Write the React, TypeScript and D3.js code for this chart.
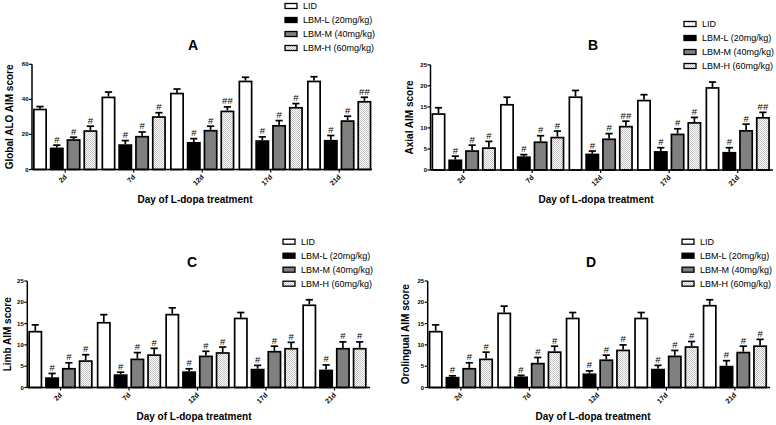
import React from "react";
import * as d3 from "d3";

const days = ["2d", "7d", "12d", "17d", "21d"];
const seriesNames = ["LID", "LBM-L (20mg/kg)", "LBM-M (40mg/kg)", "LBM-H (60mg/kg)"];

// Panel A: Global ALO AIM score
const aLID = [34.7, 41.6, 43.8, 50.7, 50.7];
const aLIDErr = [1.2, 2.6, 2.1, 1.9, 2.2];
const aLow = [12.5, 14.4, 15.7, 16.7, 16.9];
const aLowErr = [1.4, 2.1, 1.9, 1.9, 2.5];
const aMid = [17.3, 19.2, 22.6, 25.4, 28.1];
const aMidErr = [1.1, 2.2, 2.1, 2.5, 2.3];
const aHigh = [22.4, 30.4, 33.6, 35.7, 39.1];
const aHighErr = [2.3, 2.0, 2.1, 1.9, 2.1];
const aHighSig = ["#", "#", "##", "#", "##"];

// Panel B: Axial AIM score
const bLID = [13.5, 15.7, 17.5, 16.7, 19.7];
const bLIDErr = [1.3, 1.6, 1.4, 1.2, 1.2];
const bLow = [2.5, 3.25, 3.9, 4.5, 4.3];
const bLowErr = [0.8, 0.4, 0.6, 0.8, 1.0];
const bMid = [4.7, 6.8, 7.5, 8.65, 9.5];
const bMidErr = [1.2, 1.35, 1.15, 1.15, 1.4];
const bHigh = [5.4, 7.9, 10.5, 11.4, 12.6];
const bHighErr = [1.4, 1.35, 1.1, 1.1, 1.1];
const bHighSig = ["#", "#", "##", "#", "##"];

// Panel C: Limb AIM score
const cLID = [13.3, 15.4, 17.3, 16.4, 19.5];
const cLIDErr = [1.4, 1.7, 1.4, 1.2, 1.1];
const cLow = [2.4, 3.1, 3.8, 4.4, 4.2];
const cLowErr = [0.9, 0.5, 0.6, 0.8, 1.1];
const cMid = [4.6, 6.8, 7.5, 8.6, 9.3];
const cMidErr = [1.2, 1.4, 1.0, 1.1, 1.4];
const cHigh = [6.4, 7.8, 8.3, 9.3, 9.3];
const cHighErr = [1.3, 1.4, 1.2, 1.3, 1.4];
const cHighSig = ["#", "#", "#", "#", "#"];

// Panel D: Orolingual AIM score
const dLID = [13.3, 17.6, 16.4, 16.4, 19.4];
const dLIDErr = [1.4, 1.5, 1.2, 1.2, 1.2];
const dLow = [2.5, 2.6, 3.3, 4.4, 5.1];
const dLowErr = [0.25, 0.25, 0.6, 0.8, 1.2];
const dMid = [4.6, 5.8, 6.6, 7.5, 8.4];
const dMidErr = [1.2, 1.25, 1.0, 1.2, 1.3];
const dHigh = [6.8, 8.5, 8.9, 9.7, 9.9];
const dHighErr = [1.5, 1.2, 1.1, 1.1, 1.4];
const dHighSig = ["#", "#", "#", "#", "#"];

const allSig = ["#", "#", "#", "#", "#"];

const yTicks60 = [0, 20, 40, 60];
const yTicks25 = [0, 5, 10, 15, 20, 25];

type PanelData = {
  title: string;
  yLabel: string;
  yMax: number;
  yTicks: number[];
  values: number[][];
  errors: number[][];
  sig: (string[] | null)[];
};

const panelsData: PanelData[] = [
  {
    title: "A",
    yLabel: "Global ALO AIM score",
    yMax: 60,
    yTicks: yTicks60,
    values: [aLID, aLow, aMid, aHigh],
    errors: [aLIDErr, aLowErr, aMidErr, aHighErr],
    sig: [null, allSig, allSig, aHighSig],
  },
  {
    title: "B",
    yLabel: "Axial AIM score",
    yMax: 25,
    yTicks: yTicks25,
    values: [bLID, bLow, bMid, bHigh],
    errors: [bLIDErr, bLowErr, bMidErr, bHighErr],
    sig: [null, allSig, allSig, bHighSig],
  },
  {
    title: "C",
    yLabel: "Limb AIM score",
    yMax: 25,
    yTicks: yTicks25,
    values: [cLID, cLow, cMid, cHigh],
    errors: [cLIDErr, cLowErr, cMidErr, cHighErr],
    sig: [null, allSig, allSig, cHighSig],
  },
  {
    title: "D",
    yLabel: "Orolingual AIM score",
    yMax: 25,
    yTicks: yTicks25,
    values: [dLID, dLow, dMid, dHigh],
    errors: [dLIDErr, dLowErr, dMidErr, dHighErr],
    sig: [null, allSig, allSig, dHighSig],
  },
];

// Layout (positions only)
const layouts = [
  { ax: 32, xEnd: 372, top: 64.3, base: 169.5, titleX: 193, titleY: 49.5, legX: 285, legY: 6, yLabX: 12.6, xLabX: 195, xLabY: 202.6 },
  { ax: 430.5, xEnd: 773, top: 64.8, base: 170, titleX: 593, titleY: 49.5, legX: 684, legY: 24, yLabX: 412.6, xLabX: 596, xLabY: 202.6 },
  { ax: 27.3, xEnd: 370, top: 281, base: 387.5, titleX: 192, titleY: 266.5, legX: 283, legY: 241.7, yLabX: 10.6, xLabX: 194, xLabY: 419.6 },
  { ax: 427.7, xEnd: 770, top: 281, base: 387.5, titleX: 591, titleY: 266.5, legX: 682, legY: 241.7, yLabX: 408.6, xLabX: 593, xLabY: 419.6 },
];

const FONT = "'Liberation Sans', Arial, Helvetica, sans-serif";
const fills = ["#ffffff", "#000000", "#808080", "url(#dots)"];
const SW = 1.7;

function Panel({ data, lay }: { data: PanelData; lay: (typeof layouts)[number] }) {
  const y = d3.scaleLinear().domain([0, data.yMax]).range([lay.base, lay.top]);
  const groupStep = 68.5;
  const x0 = d3
    .scaleBand<string>()
    .domain(days)
    .range([lay.ax + 1, lay.ax + 1 + groupStep * (5 - 0.06)])
    .paddingInner(0.06)
    .paddingOuter(0);
  const x1 = d3
    .scaleBand<number>()
    .domain([0, 1, 2, 3])
    .range([0, x0.bandwidth()])
    .paddingInner(0.167)
    .paddingOuter(0);
  const bw = x1.bandwidth();
  const yMid = (lay.top + lay.base) / 2;

  return (
    <g>
      {days.map((day, gi) => (
        <g key={day}>
          {data.values.map((vals, si) => {
            const v = vals[gi];
            const e = data.errors[si][gi];
            const bx = (x0(day) as number) + (x1(si) as number);
            const cx = bx + bw / 2;
            const yTop = y(v);
            const yErr = y(v + e);
            const sig = data.sig[si];
            return (
              <g key={si}>
                <rect
                  x={bx + SW / 2}
                  y={yTop + SW / 2}
                  width={bw - SW}
                  height={Math.max(0, lay.base - yTop - SW / 2)}
                  fill={fills[si]}
                  stroke="#000"
                  strokeWidth={SW}
                />
                <line x1={cx} x2={cx} y1={yTop} y2={yErr} stroke="#000" strokeWidth={SW} />
                <line x1={cx - 3.6} x2={cx + 3.6} y1={yErr} y2={yErr} stroke="#000" strokeWidth={SW} />
                {sig && (
                  <text x={cx} y={yErr - 2.5} textAnchor="middle" fontFamily={FONT} fontSize={9.5} fill="#000">
                    {sig[gi]}
                  </text>
                )}
              </g>
            );
          })}
        </g>
      ))}
      <line x1={lay.ax} x2={lay.ax} y1={lay.top} y2={lay.base} stroke="#000" strokeWidth={1.5} />
      {data.yTicks.map((t) => (
        <g key={t}>
          <line x1={lay.ax - 3} x2={lay.ax} y1={y(t)} y2={y(t)} stroke="#000" strokeWidth={1.2} />
          <text x={lay.ax - 3.5} y={y(t) + 2} textAnchor="end" fontFamily={FONT} fontSize={6} fontWeight="bold">
            {t}
          </text>
        </g>
      ))}
      <line x1={lay.ax} x2={lay.xEnd} y1={lay.base} y2={lay.base} stroke="#000" strokeWidth={1.5} />
      {days.map((day) => {
        const cx = (x0(day) as number) + x0.bandwidth() / 2;
        return (
          <g key={day}>
            <line x1={cx} x2={cx} y1={lay.base} y2={lay.base + 3} stroke="#000" strokeWidth={1.2} />
            <text
              transform={`translate(${cx + 2},${lay.base + 8}) rotate(-45)`}
              textAnchor="end"
              fontFamily={FONT}
              fontSize={7}
              fontWeight="bold"
            >
              {day}
            </text>
          </g>
        );
      })}
      <text x={lay.titleX} y={lay.titleY} textAnchor="middle" fontFamily={FONT} fontSize={14} fontWeight="bold">
        {data.title}
      </text>
      <text
        transform={`translate(${lay.yLabX},${yMid}) rotate(-90)`}
        textAnchor="middle"
        fontFamily={FONT}
        fontSize={10}
        fontWeight="bold"
      >
        {data.yLabel}
      </text>
      <text x={lay.xLabX} y={lay.xLabY} textAnchor="middle" fontFamily={FONT} fontSize={10} fontWeight="bold">
        Day of L-dopa treatment
      </text>
      {seriesNames.map((name, si) => {
        const cy = lay.legY + si * 14;
        return (
          <g key={name}>
            <rect x={lay.legX} y={cy - 2.5} width={12} height={5} fill={fills[si]} stroke="#000" strokeWidth={1.3} />
            <text x={lay.legX + 18} y={cy + 3.2} fontFamily={FONT} fontSize={9} fill="#000">
              {name}
            </text>
          </g>
        );
      })}
    </g>
  );
}

export default function App() {
  return (
    <svg
      width={776}
      height={425}
      viewBox="0 0 776 425"
      style={{ position: "absolute", left: 0, top: 0, background: "#fff" }}
    >
      <defs>
        <pattern id="dots" width={2} height={2} patternUnits="userSpaceOnUse">
          <rect width={2} height={2} fill="#ffffff" />
          <rect x={0} y={0} width={1} height={1} fill="#c4c4c4" />
          <rect x={1} y={1} width={1} height={1} fill="#c4c4c4" />
        </pattern>
      </defs>
      <rect width={776} height={425} fill="#fff" />
      {panelsData.map((p, i) => (
        <Panel key={p.title} data={p} lay={layouts[i]} />
      ))}
    </svg>
  );
}
